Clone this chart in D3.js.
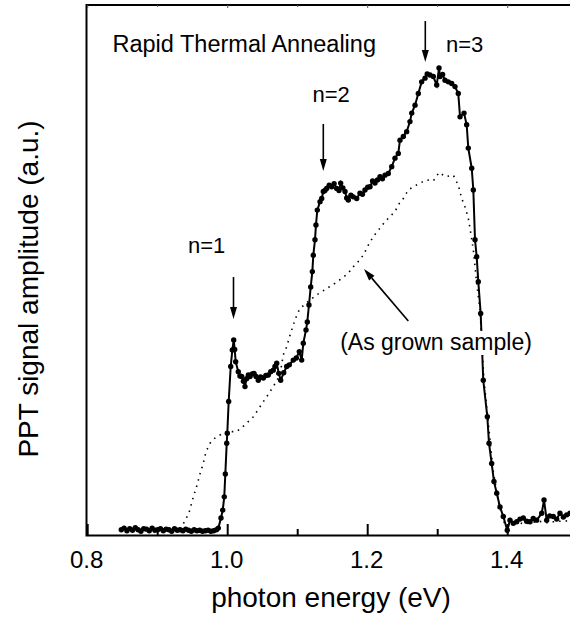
<!DOCTYPE html>
<html>
<head>
<meta charset="utf-8">
<script src="https://cdn.jsdelivr.net/npm/d3@7"></script>
<style>
  body { margin: 0; background: #fff; }
  text { font-family: "Liberation Sans", Arial, sans-serif; fill: #000; }
</style>
</head>
<body>
<div id="chart"></div>
<script>
// Rapid thermal annealed sample (solid line with dots)
const rtaEnergy = [
  0.848,0.852,0.856,0.860,0.864,0.868,0.872,0.876,0.880,0.884,0.888,0.892,0.896,0.900,0.904,0.908,0.912,0.916,
  0.920,0.924,0.928,0.932,0.936,0.940,0.944,0.948,0.952,0.956,0.960,0.964,0.968,0.972,0.976,0.980,0.984,
  0.9866,0.9904,0.9929,0.9951,0.9966,0.9986,0.9994,1.0014,1.0043,1.0066,1.0086,1.0100,1.0114,1.0151,1.0175,
  1.0200,1.0225,1.0247,1.0270,1.0295,1.0319,1.0350,1.0376,1.0405,1.0437,1.0470,1.0509,1.0545,1.0580,1.0615,
  1.0651,1.0675,1.0700,1.0730,1.0757,1.0800,1.0843,1.0880,1.0937,1.0980,1.1023,1.1057,1.1080,1.1119,1.1137,
  1.1161,1.1186,1.1209,1.1223,1.1247,1.1261,1.1280,1.1319,1.1343,1.1366,1.1390,1.1414,1.1450,1.1486,1.1520,
  1.1557,1.1590,1.1614,1.1645,1.1676,1.1700,1.1723,1.1760,1.1794,1.1843,1.1890,1.1925,1.1961,1.2000,1.2033,
  1.2070,1.2104,1.2140,1.2176,1.2210,1.2247,1.2294,1.2343,1.2390,1.2437,1.2461,1.2509,1.2557,1.2604,1.2629,
  1.2676,1.2723,1.2771,1.2819,1.2850,1.2890,1.2937,1.2986,1.3019,1.3033,1.3070,1.3104,1.3151,1.3200,1.3247,
  1.3294,1.3319,1.3376,1.3414,1.3437,1.3486,1.3509,1.3533,1.3557,1.3580,1.3614,1.3651,1.3709,1.3733,1.3771,
  1.3804,1.3843,1.3890,1.3937,1.3994,1.4033,1.4080,1.4129,1.4175,1.4223,1.4270,1.4319,1.4365,1.4414,1.4486,
  1.4519,1.4557,1.4600,1.4651,1.4700,1.4747,1.4795,1.4843,1.4890
];
const rtaSignal = [
  1.0,1.3,0.8,1.2,0.9,1.4,1.0,0.7,1.2,1.1,0.8,1.3,0.9,1.0,1.2,0.8,1.1,1.0,
  0.7,1.2,0.9,1.0,0.8,1.1,0.9,0.7,1.0,0.8,0.9,0.7,0.8,0.9,0.7,0.8,1.0,
  1.3,3.2,4.7,7.2,11.5,17.3,19.2,25.2,31.8,34.9,36.8,35.0,32.7,30.8,30.0,
  29.9,29.0,28.0,29.5,30.2,29.9,30.4,30.5,29.9,29.2,29.8,29.6,30.1,30.2,30.8,
  31.1,31.8,32.4,30.5,29.2,30.6,31.8,32.1,33.0,33.4,34.6,33.0,36.2,38.7,40.2,
  43.4,46.8,49.7,52.8,55.7,58.5,61.3,62.9,63.5,64.8,65.0,65.4,66.0,65.7,66.3,
  65.4,65.0,66.4,65.5,64.8,63.6,63.2,64.1,63.8,63.5,64.5,64.3,65.1,65.6,65.7,
  66.8,66.4,67.0,67.6,67.2,67.9,68.2,69.5,71.1,72.0,74.5,75.2,76.1,78.0,79.6,
  81.1,83.3,85.5,86.2,87.0,86.8,86.5,84.9,88.1,86.5,86.9,85.8,85.5,85.2,84.6,
  83.3,78.9,79.6,77.4,73.0,69.2,65.1,55.7,52.5,47.8,41.8,29.2,22.3,17.3,13.5,
  10.1,7.9,5.3,3.5,0.9,2.8,2.2,2.5,3.0,3.2,2.6,2.5,3.1,2.8,4.1,
  6.6,2.8,3.6,3.5,3.0,4.1,3.4,3.8,4.1
];

// As grown sample (dotted line)
const grownEnergy = [
  0.848,0.856,0.864,0.872,0.880,0.888,0.896,0.904,0.912,0.920,0.926,
  0.9319,0.9390,0.9451,0.9509,0.9566,0.9604,0.9651,0.9690,0.9747,0.9833,0.9986,1.0129,1.0247,1.0366,
  1.0461,1.0557,1.0651,1.0747,1.0794,1.0843,1.0890,1.0961,1.1023,1.1104,1.1176,1.1271,1.1414,1.1533,
  1.1629,1.1723,1.1794,1.1866,1.1937,1.2009,1.2080,1.2151,1.2247,1.2319,1.2390,1.2437,1.2509,1.2580,
  1.2651,1.2747,1.2843,1.2937,1.3019,1.3114,1.3223,1.3294,1.3343,1.3390,1.3437,1.3461,1.3509,1.3557,
  1.3604,1.3661,1.3719,1.3790,1.3876,1.3961,1.4050,1.4150,1.4250,1.4350,1.4450,1.4550,1.4650,1.4750,1.4890
];
const grownSignal = [
  1.0,1.1,0.9,1.0,1.1,0.9,1.0,1.1,1.0,1.0,1.1,
  1.3,2.6,4.4,7.2,9.6,11.5,13.5,15.7,17.3,18.5,19.5,19.5,20.8,22.3,
  24.2,26.1,28.0,30.2,34.0,35.5,37.7,40.6,42.5,43.6,44.3,45.3,46.5,47.5,
  48.4,49.4,50.6,51.6,52.8,54.7,56.3,57.5,59.1,60.1,61.0,62.3,63.5,65.1,
  65.7,66.4,67.0,66.8,68.4,67.6,67.9,66.0,63.5,61.9,59.8,57.9,53.8,47.5,
  42.5,29.2,21.7,12.3,5.7,1.9,2.0,2.3,2.1,2.4,2.6,2.3,2.5,2.6,2.7
];

const xTicksMajor = [0.8, 1.0, 1.2, 1.4];
const xTicksMinor = [0.9, 1.1, 1.3];

const W = 570, H = 617;
const svg = d3.select('#chart').append('svg')
  .attr('width', W).attr('height', H);

const x = d3.scaleLinear().domain([0.8, 1.5]).range([87.7, 577.7]);
const y = d3.scaleLinear().domain([0, 100]).range([535, 5]);

const rta = rtaEnergy.map((e, i) => ({e, v: rtaSignal[i]}));
const grown = grownEnergy.map((e, i) => ({e, v: grownSignal[i]}));

const line = d3.line().x(d => x(d.e)).y(d => y(d.v));

// dotted as-grown curve
svg.append('path')
  .datum(grown)
  .attr('d', line)
  .attr('fill', 'none')
  .attr('stroke', '#000')
  .attr('stroke-width', 1.6)
  .attr('stroke-dasharray', '1.5,5');

// solid annealed curve
svg.append('path')
  .datum(rta)
  .attr('d', line)
  .attr('fill', 'none')
  .attr('stroke', '#000')
  .attr('stroke-width', 2);

svg.append('g').selectAll('circle')
  .data(rta)
  .enter().append('circle')
  .attr('cx', d => x(d.e))
  .attr('cy', d => y(d.v))
  .attr('r', 2.7)
  .attr('fill', '#000');

// frame: left, bottom, top
svg.append('path')
  .attr('d', `M${x(1.5)},5 H86.5 V535.5 H${x(1.5)}`)
  .attr('fill', 'none')
  .attr('stroke', '#000')
  .attr('stroke-width', 2);

// ticks (inward)
xTicksMajor.forEach(t => {
  svg.append('line').attr('x1', x(t)).attr('x2', x(t))
    .attr('y1', 535).attr('y2', 524).attr('stroke', '#000').attr('stroke-width', 2);
  svg.append('line').attr('x1', x(t)).attr('x2', x(t))
    .attr('y1', 5).attr('y2', 8).attr('stroke', '#555').attr('stroke-width', 1);
});
xTicksMinor.forEach(t => {
  svg.append('line').attr('x1', x(t)).attr('x2', x(t))
    .attr('y1', 535).attr('y2', 529).attr('stroke', '#000').attr('stroke-width', 2);
  svg.append('line').attr('x1', x(t)).attr('x2', x(t))
    .attr('y1', 5).attr('y2', 7).attr('stroke', '#555').attr('stroke-width', 1);
});

svg.append('g').selectAll('text')
  .data(xTicksMajor)
  .enter().append('text')
  .attr('x', d => x(d) - 1)
  .attr('y', 568)
  .attr('text-anchor', 'middle')
  .attr('font-size', 24)
  .text(d => d.toFixed(1));

// axis titles
svg.append('text')
  .attr('x', 331).attr('y', 607)
  .attr('text-anchor', 'middle')
  .attr('font-size', 28)
  .text('photon energy (eV)');

svg.append('text')
  .attr('transform', 'translate(38,289) rotate(-90)')
  .attr('text-anchor', 'middle')
  .attr('font-size', 28)
  .text('PPT signal amplitude (a.u.)');

// annotations
svg.append('text').attr('x', 112.5).attr('y', 52)
  .attr('font-size', 23.5).text('Rapid Thermal Annealing');
svg.append('text').attr('x', 188).attr('y', 253)
  .attr('font-size', 22).text('n=1');
svg.append('text').attr('x', 312.5).attr('y', 102)
  .attr('font-size', 22).text('n=2');
svg.append('text').attr('x', 446).attr('y', 52)
  .attr('font-size', 22).text('n=3');

function arrow(x1, y1, x2, y2) {
  const a = Math.atan2(y2 - y1, x2 - x1);
  const len = 12, half = 3.5;
  const bx = x2 - len * Math.cos(a), by = y2 - len * Math.sin(a);
  svg.append('line').attr('x1', x1).attr('y1', y1).attr('x2', bx).attr('y2', by)
    .attr('stroke', '#000').attr('stroke-width', 1.6);
  const p = [
    [x2, y2],
    [bx + half * Math.sin(a), by - half * Math.cos(a)],
    [bx - half * Math.sin(a), by + half * Math.cos(a)]
  ];
  svg.append('path').attr('d', 'M' + p.join('L') + 'Z').attr('fill', '#000');
}
arrow(233.5, 277, 233.5, 319);
arrow(323.3, 124, 323.3, 171);
arrow(425.3, 21, 425.3, 62);
arrow(408.3, 321, 364, 269);

// "(As grown sample)" label with white background
const lab = svg.append('text')
  .attr('x', 436).attr('y', 350)
  .attr('text-anchor', 'middle')
  .attr('font-size', 23)
  .text('(As grown sample)');
const bb = lab.node().getBBox();
svg.append('rect')
  .attr('x', bb.x - 2).attr('y', bb.y + 2)
  .attr('width', bb.width + 4).attr('height', bb.height - 2)
  .attr('fill', '#fff');
lab.raise();
</script>
</body>
</html>
